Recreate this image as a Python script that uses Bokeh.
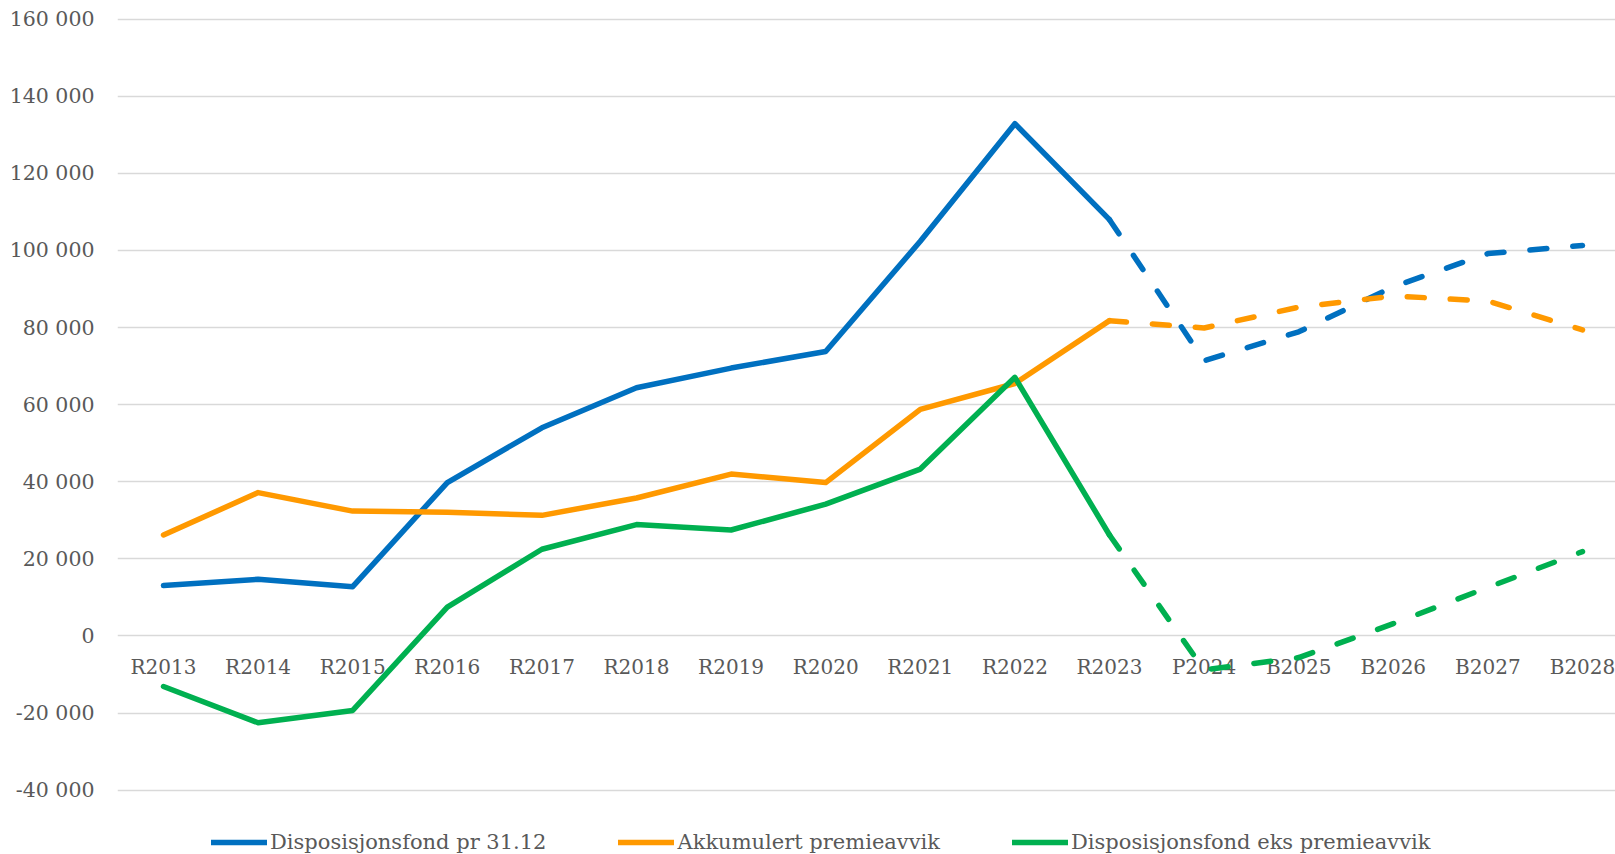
import numpy as np
from bokeh.plotting import figure
from bokeh.models import Range1d, FixedTicker, Legend, LegendItem, ColumnDataSource
from bokeh.core.properties import value
from bokeh.embed import file_html
from bokeh.resources import INLINE

categories = ["R2013", "R2014", "R2015", "R2016", "R2017", "R2018", "R2019", "R2020",
              "R2021", "R2022", "R2023", "P2024", "B2025", "B2026", "B2027", "B2028"]

disposisjonsfond = [13100, 14700, 12800, 39800, 54000, 64400, 69500, 73800,
                    102400, 132900, 108000, 71400, 78900, 90600, 99200, 101300]
premieavvik = [26200, 37200, 32400, 32100, 31300, 35800, 42000, 39800,
               58800, 65500, 81800, 79900, 85300, 88200, 86900, 79400]
eks_premieavvik = [-13100, -22500, -19300, 7500, 22500, 28900, 27500, 34200,
                   43300, 67100, 26200, -8800, -5600, 3200, 12600, 21900]

series_names = ["Disposisjonsfond pr 31.12", "Akkumulert premieavvik", "Disposisjonsfond eks premieavvik"]
series_colors = ["#0070C0", "#FF9900", "#00B050"]

y_ticks = [-40000, -20000, 0, 20000, 40000, 60000, 80000, 100000, 120000, 140000, 160000]
y_tick_labels = ["-40 000", "-20 000", "0", "20 000", "40 000", "60 000", "80 000",
                 "100 000", "120 000", "140 000", "160 000"]

last_actual = categories.index("R2023")

FONT = "DejaVu Serif"
TEXT_COLOR = "#595959"

x_idx = np.arange(len(categories))

p = figure(width=1615, height=854, output_backend="svg", toolbar_location=None,
           x_range=Range1d(-0.4863, 15.349), y_range=Range1d(-56680, 161738),
           x_axis_location=None, min_border_left=117, min_border_right=0,
           min_border_top=12, min_border_bottom=0)
p.outline_line_color = None
p.background_fill_color = "white"
p.border_fill_color = "white"

# grid
p.xgrid.visible = False
p.ygrid.ticker = FixedTicker(ticks=y_ticks)
p.ygrid.grid_line_color = "#d9d9d9"
p.ygrid.grid_line_width = 1.6

# y axis
yax = p.yaxis[0]
yax.ticker = FixedTicker(ticks=y_ticks)
yax.major_label_overrides = {t: l for t, l in zip(y_ticks, y_tick_labels)}
yax.axis_line_color = None
yax.major_tick_line_color = None
yax.minor_tick_line_color = None
yax.major_tick_out = 0
yax.major_tick_in = 0
yax.major_label_standoff = 23
yax.major_label_text_font = FONT
yax.major_label_text_font_size = "20.5px"
yax.major_label_text_color = TEXT_COLOR

# category labels next to the zero line
lab_src = ColumnDataSource(dict(x=x_idx, y=[0] * len(categories), text=categories))
p.text(x="x", y="y", text="text", source=lab_src, y_offset=31,
       text_align="center", text_baseline="middle",
       text_font=value(FONT), text_font_size="20px", text_color=TEXT_COLOR)

items = []
for vals, name, col in zip([disposisjonsfond, premieavvik, eks_premieavvik], series_names, series_colors):
    solid = p.line(x_idx[:last_actual + 1], vals[:last_actual + 1], line_color=col,
                   line_width=5.5, line_cap="round", line_join="round")
    p.line(x_idx[last_actual:], vals[last_actual:], line_color=col,
           line_width=5.5, line_cap="round", line_join="round", line_dash="17 26")
    items.append(LegendItem(label=name, renderers=[solid]))

legend = Legend(items=items, orientation="horizontal", location=(94, 0),
                spacing=72, glyph_width=56, glyph_height=20, label_standoff=3,
                padding=0, margin=0, border_line_alpha=0, background_fill_alpha=0,
                label_text_font=FONT, label_text_font_size="21px",
                label_text_color=TEXT_COLOR)
p.add_layout(legend)

open("out.html", "w").write(file_html(p, INLINE))
